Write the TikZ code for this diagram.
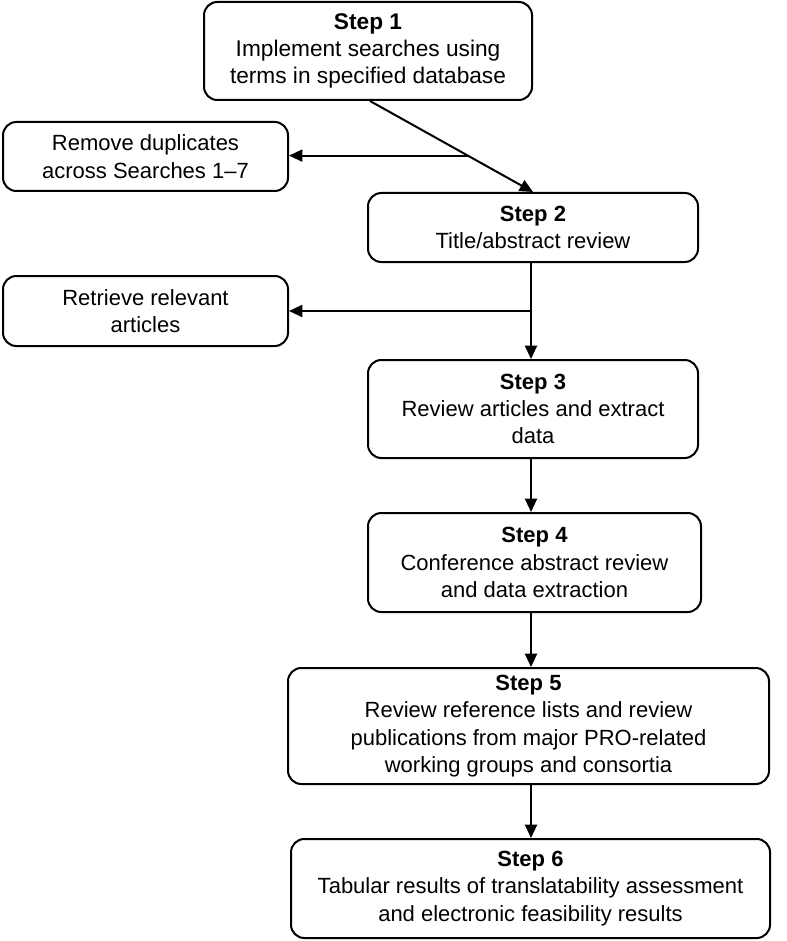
\documentclass[tikz,border=0pt]{standalone}
\usepackage{fontspec}
\setmainfont{Liberation Sans}
\usetikzlibrary{arrows.meta,calc}
\begin{document}
\begin{tikzpicture}[x=0.75pt,y=-0.75pt,
  box/.style={draw=black, line width=1.5pt, rounded corners=10pt, align=center,
    inner sep=2pt, font=\fontsize{16.5}{20.5}\selectfont},
  arr/.style={line width=1.5pt, -{Triangle[length=10pt,width=9pt]}},
  ln/.style={line width=1.5pt}]
\useasboundingbox (0,0) rectangle (787,941);
\node[box, minimum width=246pt, minimum height=73.5pt, font=\fontsize{17}{20}\selectfont] (s1) at (368,51)
  {\textbf{Step 1}\\Implement searches using\\terms in specified database};
\node[box, minimum width=213.75pt, minimum height=51.75pt] (dup) at (145.5,156.5)
  {Remove duplicates\\across Searches 1–7};
\node[box, minimum width=247.5pt, minimum height=51.75pt] (s2) at (533,227.5)
  {\textbf{Step 2}\\Title/abstract review};
\node[box, minimum width=213.75pt, minimum height=52.5pt] (ret) at (145.5,311)
  {Retrieve relevant\\articles};
\node[box, minimum width=247.5pt, minimum height=73.5pt] (s3) at (533,409)
  {\textbf{Step 3}\\Review articles and extract\\data};
\node[box, minimum width=249.75pt, minimum height=74.25pt] (s4) at (534.5,562.5)
  {\textbf{Step 4}\\Conference abstract review\\and data extraction};
\node[box, minimum width=360.75pt, minimum height=87pt] (s5) at (528.5,726)
  {\textbf{Step 5}\\Review reference lists and review\\publications from major PRO-related\\working groups and consortia};
\node[box, minimum width=359.25pt, minimum height=74.25pt] (s6) at (530.5,888.5)
  {\textbf{Step 6}\\Tabular results of translatability assessment\\and electronic feasibility results};
\coordinate (ax) at (531,0);
% Step 1 -> Step 2 (diagonal) with branch to duplicates
\coordinate (d1) at ($(s1.south)+(2,0)$);
\draw[arr] (d1) -- (s2.north);
\path (d1) -- (s2.north) coordinate[pos=0.6] (b1);
\draw[arr] (b1) -- (b1 -| dup.east);
% Step 2 -> Step 3 with branch to retrieve
\draw[arr] (ax |- s2.south) -- (ax |- s3.north);
\coordinate (b2) at (ax |- ret.east);
\draw[arr] (b2) -- (ret.east);
\draw[arr] (ax |- s3.south) -- (ax |- s4.north);
\draw[arr] (ax |- s4.south) -- (ax |- s5.north);
\draw[arr] (ax |- s5.south) -- (ax |- s6.north);
\end{tikzpicture}
\end{document}
